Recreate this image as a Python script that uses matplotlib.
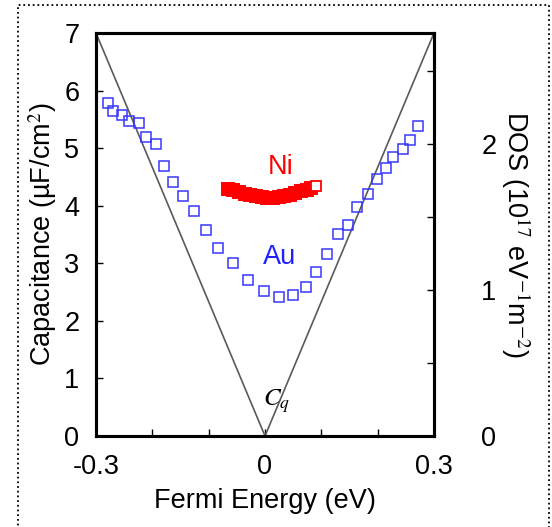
import matplotlib
matplotlib.use("Agg")
import matplotlib.pyplot as plt
from matplotlib.patches import Rectangle
from matplotlib.ticker import FixedLocator, NullFormatter

plt.rcParams['font.family'] = ['Liberation Sans', 'DejaVu Sans']
plt.rcParams['mathtext.fontset'] = 'stix'

# Theoretical quantum capacitance (V shape)
cq_x = [-0.3, 0.0, 0.3]
cq_y = [7.0, 0.0, 7.0]

# Au data
au_x = [-0.279, -0.269, -0.253, -0.241, -0.223, -0.212, -0.193, -0.179, -0.163,
        -0.145, -0.126, -0.105, -0.083, -0.056, -0.031, -0.002, 0.024, 0.050,
        0.073, 0.091, 0.110, 0.130, 0.148, 0.164, 0.183, 0.198, 0.214, 0.227,
        0.245, 0.257, 0.272]
au_y = [5.79, 5.65, 5.58, 5.48, 5.43, 5.20, 5.07, 4.69, 4.42, 4.17, 3.90, 3.58,
        3.26, 3.00, 2.71, 2.51, 2.42, 2.45, 2.58, 2.85, 3.16, 3.51, 3.67, 3.98,
        4.21, 4.46, 4.65, 4.85, 4.98, 5.15, 5.38]

# Ni data
ni_x = [-0.066, -0.056, -0.046, -0.036, -0.026, -0.016, -0.006, 0.004, 0.014,
        0.024, 0.034, 0.044, 0.054, 0.064, 0.074, 0.082]
ni_y = [4.29, 4.27, 4.24, 4.21, 4.19, 4.17, 4.15, 4.14, 4.14, 4.15, 4.17, 4.19,
        4.22, 4.25, 4.28, 4.31]
ni_last_x = [0.09]
ni_last_y = [4.34]

x_ticks = [-0.3, 0.0, 0.3]
x_ticklabels = ['-0.3', '0', '0.3']
x_minor = [-0.2, -0.1, 0.1, 0.2]
y_ticks = [0, 1, 2, 3, 4, 5, 6, 7]
dos_ticks = [0, 1, 2]
dos_minor = [0.5, 1.5, 2.5]

W, H = 552, 527
fig = plt.figure(figsize=(W / 100, H / 100), dpi=100)
ax = fig.add_axes([96 / W, 1 - 436 / H, (434 - 96) / W, (436 - 33) / H])

ax.plot(cq_x, cq_y, color='#5a5a5a', lw=1.2, zorder=2)
ax.plot(au_x, au_y, ls='none', marker='s', ms=7.8, mfc='none', mec='#3838ff',
        mew=1.1, zorder=3)
ax.plot(ni_x, ni_y, ls='none', marker='s', ms=8.6, mfc='#ff0000', mec='#ff0000',
        mew=1.4, zorder=4)
ax.plot(ni_last_x, ni_last_y, ls='none', marker='s', ms=7.4, mfc='white',
        mec='#ff0000', mew=1.3, zorder=5)

ax.set_xlim(-0.3, 0.3)
ax.set_ylim(0, 7)
ax.xaxis.set_major_locator(FixedLocator(x_ticks))
ax.set_xticklabels(x_ticklabels)
ax.xaxis.set_minor_locator(FixedLocator(x_minor))
ax.yaxis.set_major_locator(FixedLocator(y_ticks))

fs = 19.5
ax.tick_params(axis='both', which='both', direction='in', length=5, width=1,
               labelsize=fs)
ax.tick_params(axis='x', pad=13)
ax.tick_params(axis='y', pad=12)
ax.tick_params(axis='y', right=False)
for s in ax.spines.values():
    s.set_linewidth(2.2)

ax.set_xlabel('Fermi Energy (eV)', fontsize=fs, labelpad=6)
ax.set_ylabel('Capacitance (µF/cm$^2$)', fontsize=fs, labelpad=4)

ax2 = ax.twinx()
ax2.set_ylim(0, (436 - 33) / 146)
ax2.yaxis.set_major_locator(FixedLocator(dos_ticks))
ax2.yaxis.set_minor_locator(FixedLocator(dos_minor))
ax2.yaxis.set_minor_formatter(NullFormatter())
ax2.tick_params(axis='y', which='both', direction='in', length=5, width=1,
                labelsize=fs, pad=34)
ax2.set_ylabel('DOS (10$^{17}$ eV$^{-1}$m$^{-2}$)', fontsize=fs, rotation=270,
               labelpad=26)
for s in ax2.spines.values():
    s.set_linewidth(2.2)

ax.text(0.027, 4.67, 'Ni', color='#ff0000', fontsize=fs, ha='center', va='center')
ax.text(0.025, 3.11, 'Au', color='#2020ff', fontsize=fs, ha='center', va='center')
ax.text(0.02, 0.6, r'$C_q$', color='black', fontsize=18, ha='center', va='center')

fig.patches.append(Rectangle((18 / W, -0.05), (549 - 18) / W, 1 - 5 / H + 0.05,
                             transform=fig.transFigure, fill=False, ec='black',
                             lw=1.3, ls=(0, (1, 1.6))))

fig.savefig('out.png', dpi=100)
